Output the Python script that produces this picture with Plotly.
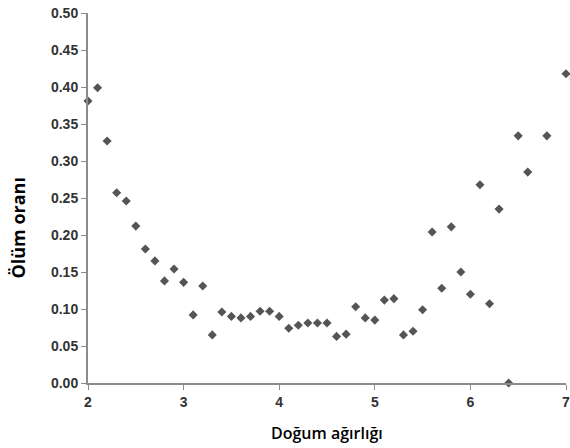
import plotly.graph_objects as go

birth_weight = [2.0, 2.1, 2.2, 2.3, 2.4, 2.5, 2.6, 2.7, 2.8, 2.9,
                3.0, 3.1, 3.2, 3.3, 3.4, 3.5, 3.6, 3.7, 3.8, 3.9,
                4.0, 4.1, 4.2, 4.3, 4.4, 4.5, 4.6, 4.7, 4.8, 4.9,
                5.0, 5.1, 5.2, 5.3, 5.4, 5.5, 5.6, 5.7, 5.8, 5.9,
                6.0, 6.1, 6.2, 6.3, 6.4, 6.5, 6.6, 6.8, 7.0]
mortality = [0.381, 0.399, 0.327, 0.257, 0.246, 0.212, 0.181, 0.165, 0.138, 0.154,
             0.136, 0.092, 0.131, 0.065, 0.096, 0.090, 0.088, 0.090, 0.097, 0.097,
             0.090, 0.074, 0.078, 0.081, 0.081, 0.081, 0.063, 0.066, 0.103, 0.088,
             0.085, 0.112, 0.114, 0.065, 0.070, 0.099, 0.204, 0.128, 0.211, 0.150,
             0.120, 0.268, 0.107, 0.235, 0.000, 0.334, 0.285, 0.334, 0.418]

x_ticks = [2, 3, 4, 5, 6, 7]
y_ticks = [0.00, 0.05, 0.10, 0.15, 0.20, 0.25, 0.30, 0.35, 0.40, 0.45, 0.50]

fig = go.Figure()
fig.add_trace(go.Scatter(
    x=birth_weight, y=mortality, mode="markers",
    marker=dict(symbol="diamond", size=7, color="#555555"),
    cliponaxis=False, showlegend=False,
))

axis_font = dict(family="Arial", size=14, color="#333333", weight=700)
fig.update_layout(
    width=570, height=448,
    margin=dict(l=88, r=4, t=13, b=65),
    paper_bgcolor="white", plot_bgcolor="white",
    xaxis=dict(
        range=[2, 7], tickvals=x_ticks, ticktext=[str(v) for v in x_ticks],
        showgrid=False, zeroline=False, showline=True, linecolor="#8c8c8c", linewidth=2,
        ticks="outside", ticklen=5, tickcolor="#8c8c8c", tickwidth=1,
        tickfont=axis_font, automargin=False, ticklabeloverflow="allow",
    ),
    yaxis=dict(
        range=[0, 0.5], tickvals=y_ticks, ticktext=[f"{v:.2f}" for v in y_ticks],
        showgrid=False, zeroline=False, showline=True, linecolor="#8c8c8c", linewidth=2,
        ticks="outside", ticklen=5, tickcolor="#8c8c8c", tickwidth=1,
        tickfont=axis_font, automargin=False, ticklabeloverflow="allow",
    ),
    annotations=[
        dict(text="Doğum ağırlığı", xref="paper", yref="paper", x=0.5, y=0, yshift=-50,
             xanchor="center", yanchor="middle", showarrow=False,
             font=dict(family="Open Sans", size=16, color="#000000", weight=600)),
        dict(text="Ölüm oranı", xref="paper", yref="paper", x=0, xshift=-70, y=0.42,
             xanchor="center", yanchor="middle", showarrow=False, textangle=-90,
             font=dict(family="Open Sans", size=18, color="#000000", weight=700)),
    ],
)

fig.write_html(
    "out.html",
    config={"displayModeBar": False},
    post_script="document.body.style.margin='0';document.body.style.overflow='hidden';",
)
